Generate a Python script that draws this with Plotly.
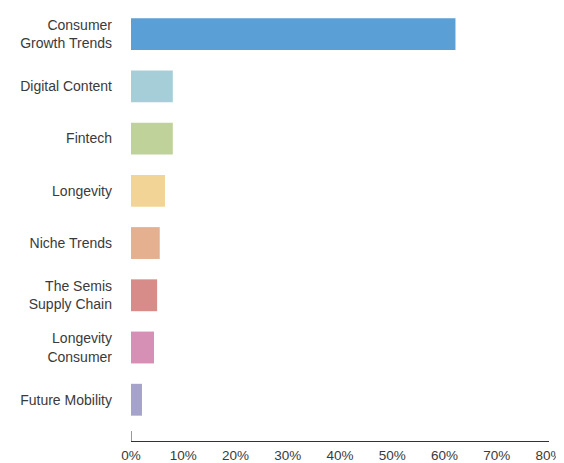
import plotly.graph_objects as go

categories = ["Consumer<br>Growth Trends", "Digital Content", "Fintech", "Longevity",
              "Niche Trends", "The Semis<br>Supply Chain", "Longevity<br>Consumer", "Future Mobility"]
values = [62.1, 8.0, 8.0, 6.5, 5.5, 5.0, 4.4, 2.1]
colors = ["#5A9FD6", "#A6CED9", "#BFD29A", "#F3D497", "#E5B08F", "#D88C8A", "#D790B5", "#A5A3CB"]
tick_vals = [0, 10, 20, 30, 40, 50, 60, 70, 80]
tick_text = ["0%", "10%", "20%", "30%", "40%", "50%", "60%", "70%", "80%"]

fig = go.Figure(go.Bar(
    x=values, y=list(range(len(categories))), orientation="h",
    marker=dict(color=colors, line=dict(width=0)),
    width=0.61, hoverinfo="x",
))

# page body has an 8px default margin, so the figure is sized to fit in the window
fig.update_layout(
    width=556, height=455,
    margin=dict(l=123, r=15, t=0, b=22),
    paper_bgcolor="white", plot_bgcolor="white",
    font=dict(family="Liberation Sans, Arial, sans-serif", size=14, color="#3a3a3a"),
    showlegend=False,
    xaxis=dict(range=[0, 80], tickvals=tick_vals, ticktext=tick_text, showgrid=False,
               zeroline=False, showline=True, linecolor="#333", linewidth=1, ticks="",
               automargin=False, fixedrange=True, ticklabelstandoff=2,
               tickfont=dict(size=13.5)),
    yaxis=dict(range=[7.79, -0.5], tickvals=list(range(len(categories))), ticktext=categories,
               showgrid=False, zeroline=False, showline=False, ticks="",
               automargin=False, ticklabelstandoff=18),
)
fig.add_shape(type="line", xref="x", yref="paper", x0=0, x1=0, y0=0, y1=0.023,
              line=dict(color="#333", width=1))

fig.write_html("out.html")
